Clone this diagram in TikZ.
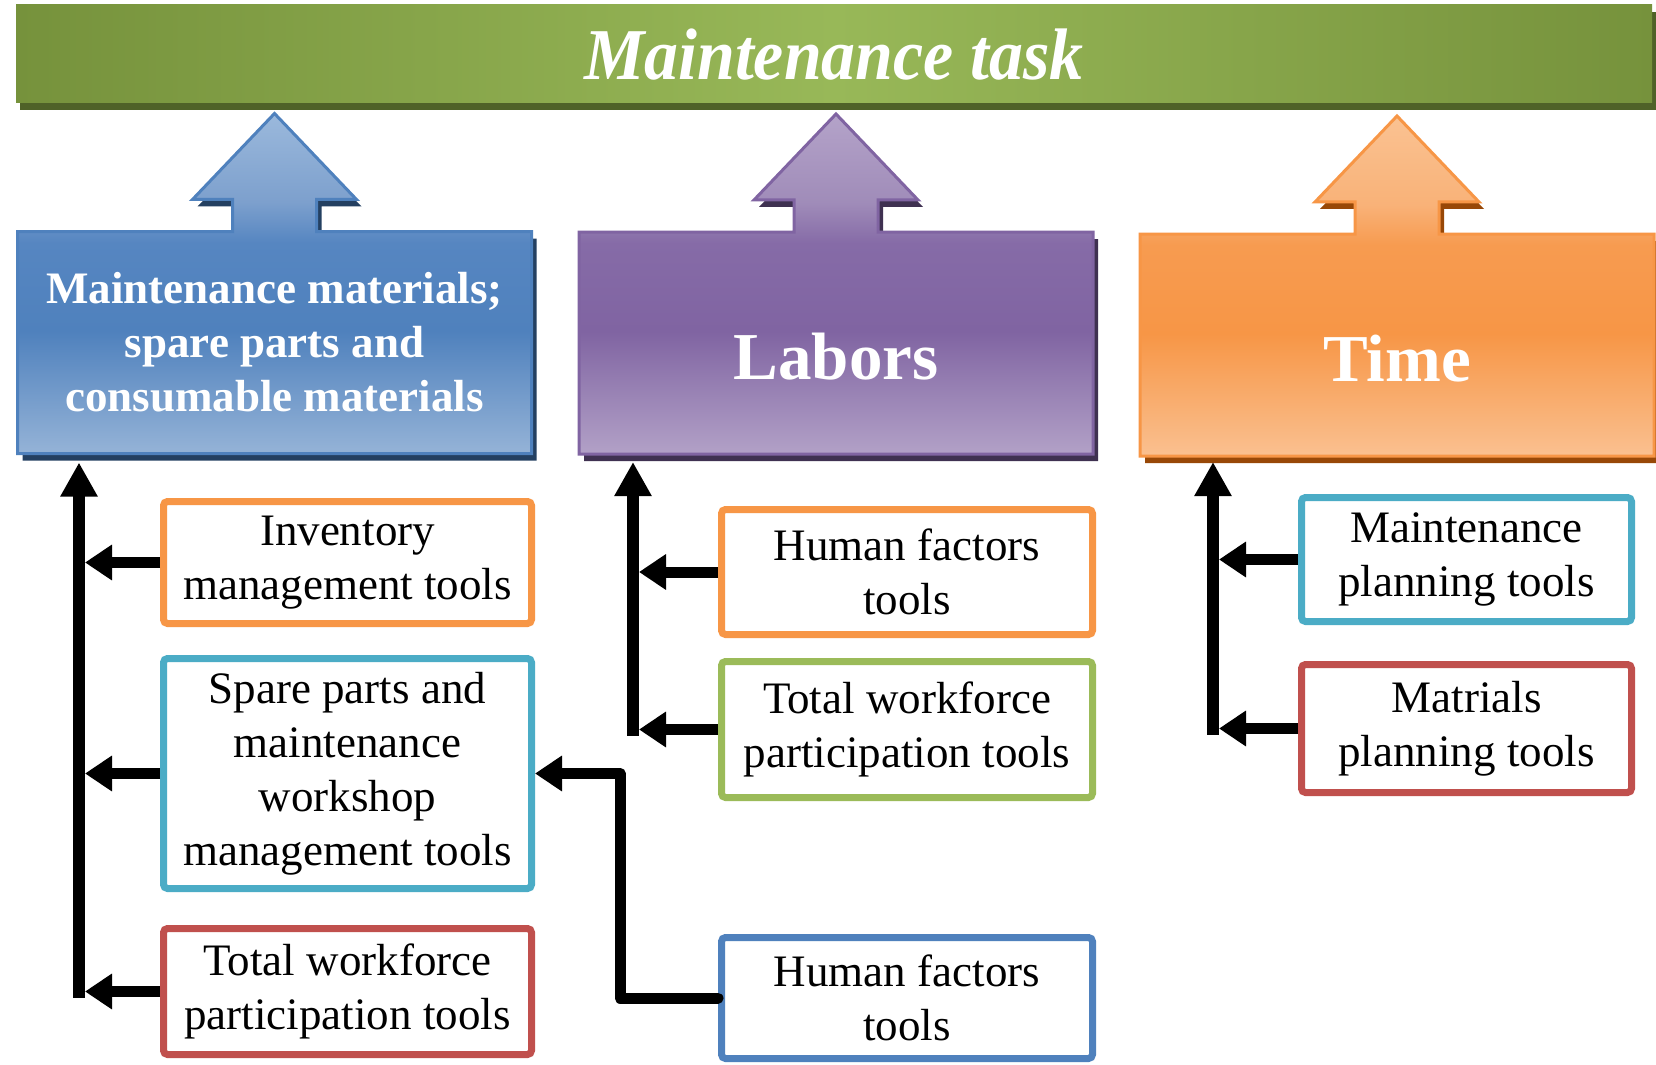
\documentclass[tikz,border=0pt]{standalone}
\usepackage{fontspec}
\setmainfont{Liberation Serif}
\usepackage{graphicx}
\usetikzlibrary{arrows.meta,calc}
\pgfdeclarelayer{bg}
\pgfsetlayers{bg,main}

\definecolor{cBlue}{RGB}{79,129,189}
\definecolor{cPur}{RGB}{128,100,162}
\definecolor{cOra}{RGB}{247,150,70}
\definecolor{cTeal}{RGB}{75,172,198}
\definecolor{cRed}{RGB}{192,80,77}
\definecolor{cGreen}{RGB}{155,187,89}
\definecolor{shBlue}{RGB}{36,64,97}
\definecolor{shPur}{RGB}{63,49,81}
\definecolor{shOra}{RGB}{152,72,7}
\definecolor{shGreen}{RGB}{79,98,40}
\definecolor{tGreenD}{RGB}{118,146,60}
\definecolor{tGreenL}{RGB}{152,184,88}

\pgfdeclareverticalshading{hdrblue}{100bp}{rgb(0bp)=(0.584,0.702,0.843); rgb(25bp)=(0.584,0.702,0.843); rgb(43bp)=(0.310,0.506,0.741); rgb(56bp)=(0.337,0.525,0.757); rgb(62bp)=(0.490,0.627,0.804); rgb(75bp)=(0.608,0.725,0.863); rgb(100bp)=(0.608,0.725,0.863)}
\pgfdeclareverticalshading{hdrpur}{100bp}{rgb(0bp)=(0.698,0.631,0.780); rgb(25bp)=(0.698,0.631,0.780); rgb(43bp)=(0.502,0.392,0.635); rgb(56bp)=(0.525,0.420,0.655); rgb(62bp)=(0.627,0.549,0.725); rgb(75bp)=(0.706,0.639,0.788); rgb(100bp)=(0.706,0.639,0.788)}
\pgfdeclareverticalshading{hdrora}{100bp}{rgb(0bp)=(0.980,0.753,0.565); rgb(25bp)=(0.980,0.753,0.565); rgb(43bp)=(0.969,0.588,0.275); rgb(56bp)=(0.969,0.608,0.314); rgb(62bp)=(0.976,0.698,0.471); rgb(75bp)=(0.980,0.761,0.573); rgb(100bp)=(0.980,0.761,0.573)}

\newcommand\hdrgroup[4]{%
\begin{pgfonlayer}{bg}
\fill[#2] ($(#1.north west)+(5,7)$) -- ($(#1.north)+(-37,7)$) -- ($(#1.north)+(-37,-25)$) -- ($(#1.north)+(-77,-25)$) -- ($(#1.north)+(5,-111)$) -- ($(#1.north)+(87,-25)$) -- ($(#1.north)+(47,-25)$) -- ($(#1.north)+(47,7)$) -- ($(#1.north east)+(5,7)$) -- ($(#1.south east)+(5,7)$) -- ($(#1.south west)+(5,7)$) -- cycle;
\path[shade, shading=#3, draw=#4, line width=1.5pt, line join=miter] (#1.north west) -- ($(#1.north)+(-42,0)$) -- ($(#1.north)+(-42,-32)$) -- ($(#1.north)+(-82,-32)$) -- ($(#1.north)+(0,-118)$) -- ($(#1.north)+(82,-32)$) -- ($(#1.north)+(42,-32)$) -- ($(#1.north)+(42,0)$) -- (#1.north east) -- (#1.south east) -- (#1.south west) -- cycle;
\end{pgfonlayer}}

\tikzset{
 hdrbox/.style={inner sep=0pt, outer sep=0pt, minimum width=257pt, minimum height=111pt, text=white, align=center, font=\fontsize{22.5pt}{27pt}\selectfont\bfseries},
 bigtxt/.style={font=\fontsize{33.5pt}{36pt}\selectfont\bfseries, text height=36pt, text depth=0pt},
 toolbox/.style={draw=#1, line width=3.5pt, fill=white, rounded corners=2pt, inner sep=0pt, outer sep=0pt, align=center, font=\fontsize{22.5pt}{27pt}\selectfont},
 trunk/.style={line width=6pt, -{Triangle[length=17pt,width=17.5pt]}},
 branch/.style={line width=5.5pt, -{Triangle[length=13.5pt,width=17pt]}, shorten <=1.75pt, shorten >=3pt},
}

\begin{document}
\begin{tikzpicture}[x=0.5pt,y=-0.5pt]
\useasboundingbox (0,0) rectangle (1656,1065);
\begin{pgfonlayer}{bg}
\fill[white] (0,0) rectangle (1656,1065);
\end{pgfonlayer}

% title bar
\node[inner sep=0pt, outer sep=0pt, minimum width=818pt, minimum height=49pt, text height=26pt, text depth=0pt, text=white, font=\fontsize{36.5pt}{40pt}\selectfont\bfseries\itshape] (task) at (834,54) {\scalebox{0.93}[1]{Maintenance task}};
\begin{pgfonlayer}{bg}
\fill[shGreen] ($(task.north west)+(4,7)$) rectangle ($(task.south east)+(4,7)$);
\shade[left color=tGreenD, right color=tGreenD, middle color=tGreenL] (task.north west) rectangle (task.south east);
\end{pgfonlayer}

% header boxes
\node[hdrbox] (B1) at (274.5,342.5) {Maintenance materials;\\spare parts and\\consumable materials};
\node[hdrbox, bigtxt] (B2) at (836,343) {Labors};
\node[hdrbox, bigtxt] (B3) at (1397,345) {Time};
\hdrgroup{B1}{shBlue}{hdrblue}{cBlue}
\hdrgroup{B2}{shPur}{hdrpur}{cPur}
\hdrgroup{B3}{shOra}{hdrora}{cOra}

% tool boxes
\node[toolbox=cOra, minimum width=184pt, minimum height=61pt] (inv) at (347.5,562.5) {Inventory\\management tools};
\node[toolbox=cTeal, minimum width=184pt, minimum height=115pt] (spare) at (347.5,773.5) {Spare parts and\\maintenance\\workshop\\management tools};
\node[toolbox=cRed, minimum width=184pt, minimum height=63pt] (tw1) at (347.5,991.5) {Total workforce\\participation tools};
\node[toolbox=cOra, minimum width=185.5pt, minimum height=62.5pt] (hf1) at (907,572) {Human factors\\tools};
\node[toolbox=cGreen, minimum width=185.5pt, minimum height=68pt] (tw2) at (907,729.5) {Total workforce\\participation tools};
\node[toolbox=cBlue, minimum width=185.5pt, minimum height=60.5pt] (hf2) at (907,998) {Human factors\\tools};
\node[toolbox=cTeal, minimum width=165pt, minimum height=62pt] (mpt) at (1466.5,559.5) {Maintenance\\planning tools};
\node[toolbox=cRed, minimum width=165pt, minimum height=64pt] (mat) at (1466.5,728.5) {Matrials\\planning tools};

\coordinate (t1) at (79,0);
\coordinate (t2) at (633,0);
\coordinate (t3) at (1213,0);
\coordinate (elb) at (620,0);

\draw[trunk, shorten >=4.5pt] ($(t1 |- tw1.west)+(0,6)$) -- (t1 |- B1.south);
\draw[branch] (inv.west) -- (inv.west -| t1);
\draw[branch] (spare.west) -- (spare.west -| t1);
\draw[branch] (tw1.west) -- (tw1.west -| t1);

\draw[trunk, shorten >=4pt] ($(t2 |- tw2.west)+(0,6)$) -- (t2 |- B2.south);
\draw[branch] (hf1.west) -- (hf1.west -| t2);
\draw[branch] (tw2.west) -- (tw2.west -| t2);

\draw[trunk, shorten >=3pt] ($(t3 |- mat.west)+(0,6)$) -- (t3 |- B3.south);
\draw[branch] (mpt.west) -- (mpt.west -| t3);
\draw[branch] (mat.west) -- (mat.west -| t3);

\draw[branch, shorten >=1.75pt, line join=round, line cap=round] (hf2.west) -- (hf2.west -| elb) -- (elb |- spare.east) -- (spare.east);
\end{tikzpicture}
\end{document}
